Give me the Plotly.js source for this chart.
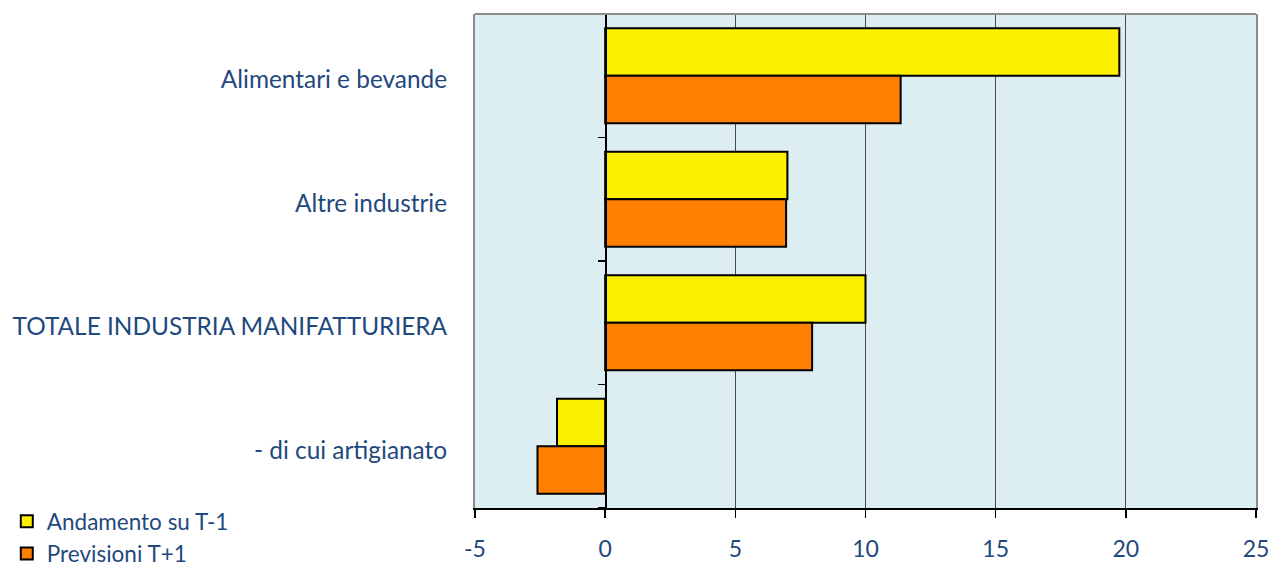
<!DOCTYPE html>
<html>
<head>
<meta charset="utf-8">
<script src="https://cdn.plot.ly/plotly-3.0.1.min.js"></script>
<style>html,body{margin:0;padding:0;background:#fff;}#chart{width:1272px;height:567px;}</style>
</head>
<body>
<div id="chart"></div>
<script>
var categories = ["Alimentari e bevande", "Altre industrie", "TOTALE INDUSTRIA MANIFATTURIERA", "- di cui artigianato"];
var seriesNames = ["Andamento su T-1", "Previsioni T+1"];
var andamento = [19.75, 7.0, 10.0, -1.85];
var previsioni = [11.35, 6.95, 7.95, -2.6];
var xTicks = [-5, 0, 5, 10, 15, 20, 25];
var boundaryTicks = [-0.5, 0.5, 1.5, 2.5, 3.5];

var textColor = "#1F497D";
var fontFam = "Lato, 'Open Sans', sans-serif";

var traces = [
  {type: "bar", orientation: "h", name: seriesNames[0], y: categories, x: andamento,
   marker: {color: "#FAF000", line: {color: "#000", width: 2}}, legendgroup: "a"},
  {type: "bar", orientation: "h", name: seriesNames[1], y: categories, x: previsioni,
   marker: {color: "#FF7F00", line: {color: "#000", width: 2}}, legendgroup: "b"},
  {type: "scatter", mode: "markers", x: [0], y: [0], yaxis: "y2", showlegend: false,
   hoverinfo: "skip", marker: {opacity: 0}}
];

var layout = {
  width: 1272, height: 567,
  margin: {l: 475, r: 16, t: 14, b: 59, autoexpand: false},
  paper_bgcolor: "#ffffff",
  plot_bgcolor: "#DDEEF3",
  barmode: "group",
  bargap: 0.23,
  bargroupgap: 0,
  font: {family: fontFam, color: textColor, size: 24},
  showlegend: true,
  legend: {x: -0.5995, xanchor: "left", y: 0.016, yanchor: "top", orientation: "v",
           font: {size: 22.5, color: textColor}, tracegroupgap: 0, bgcolor: "rgba(0,0,0,0)",
           itemwidth: 30},
  xaxis: {range: [-5, 25], tickvals: xTicks, ticktext: xTicks.map(String),
          showgrid: true, gridcolor: "#4a4a4a", gridwidth: 1,
          zeroline: false, showline: true, linecolor: "#000", linewidth: 1.5,
          ticks: "outside", ticklen: 8, tickcolor: "#000", tickwidth: 1.5,
          ticklabelstandoff: 12, tickfont: {size: 23, color: textColor}},
  yaxis: {type: "category", autorange: "reversed", showgrid: false, zeroline: false,
          showline: true, mirror: true, linecolor: "#8c8c8c", linewidth: 2,
          ticks: "", ticklabelstandoff: 21, ticklabelshift: -4,
          tickfont: {size: 24.4, color: textColor}},
  yaxis2: {overlaying: "y", anchor: "free", position: 1/6, range: [3.5, -0.5],
           tickvals: boundaryTicks, showticklabels: false, showgrid: false, zeroline: false,
           showline: true, linecolor: "#000", linewidth: 1.5,
           ticks: "outside", ticklen: 7, tickcolor: "#000", tickwidth: 1.5},
  shapes: [{type: "line", xref: "paper", yref: "paper", x0: 0, x1: 1, y0: 1, y1: 1,
            line: {color: "#8c8c8c", width: 2}}]
};

Plotly.newPlot("chart", traces, layout, {displayModeBar: false, staticPlot: true});
</script>
</body>
</html>
